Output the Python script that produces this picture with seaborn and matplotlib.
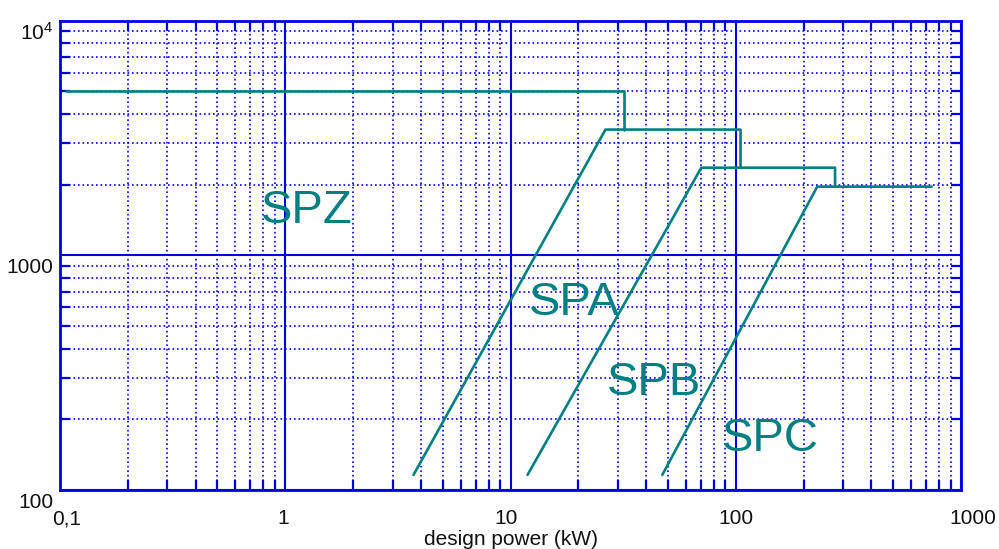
import numpy as np
import pandas as pd
import matplotlib
matplotlib.use("Agg")
import matplotlib.pyplot as plt
import matplotlib.transforms as mtransforms
from matplotlib.ticker import LogLocator, NullFormatter
import seaborn as sns

# Data (design power kW vs. rpm of small pulley)
spz_kw = [0.106, 32, 32]
spz_rpm = [5000, 5000, 3430]
spa_kw = [3.71, 26.4, 105, 105]
spa_rpm = [116, 3430, 3430, 2360]
spb_kw = [11.9, 70.3, 276, 276]
spb_rpm = [116, 2360, 2360, 1960]
spc_kw = [47.2, 230, 740]
spc_rpm = [116, 1960, 1960]

profile_names = ["SPZ", "SPA", "SPB", "SPC"]
label_kw = [1.245, 19.3, 43.2, 142]
label_rpm = [1376, 557, 254, 146.6]

x_ticks = [0.1, 1, 10, 100, 1000]
x_tick_labels = ["0,1", "1", "10", "100", "1000"]
y_ticks = [100, 1000, 10000]
y_tick_labels = ["100", "1000", r"$\mathregular{10^4}$"]

TEAL = "#008080"
BLUE = "#0000E6"

sns.set_style("white")
plt.rcParams["font.family"] = ["Liberation Sans", "DejaVu Sans"]
plt.rcParams["mathtext.fontset"] = "custom"
plt.rcParams["mathtext.rm"] = "Liberation Sans"

fig = plt.figure(figsize=(9.99, 5.49), dpi=100)
ax = fig.add_axes([60 / 999, (549 - 490) / 549, (961 - 60) / 999, (490 - 20.5) / 549])

ax.set_xscale("log")
ax.set_yscale("log")
ax.set_xlim(0.1, 1000)
ax.set_ylim(100, 10000)

# grid
ax.xaxis.set_minor_locator(LogLocator(base=10, subs=np.arange(2, 10), numticks=50))
ax.yaxis.set_minor_locator(LogLocator(base=10, subs=np.arange(2, 10), numticks=50))
ax.xaxis.set_minor_formatter(NullFormatter())
ax.yaxis.set_minor_formatter(NullFormatter())
ax.grid(which="major", color=BLUE, linewidth=1.5, linestyle="-")
ax.grid(which="minor", color="#0000FF", linewidth=1.2, linestyle=(0, (1, 1.7)))
ax.set_axisbelow(True)

# curves
for kw, rpm in [(spz_kw, spz_rpm), (spa_kw, spa_rpm), (spb_kw, spb_rpm), (spc_kw, spc_rpm)]:
    df = pd.DataFrame({"kw": kw, "rpm": rpm})
    sns.lineplot(data=df, x="kw", y="rpm", sort=False, estimator=None,
                 color=TEAL, linewidth=1.9, ax=ax)

for name, x, y in zip(profile_names, label_kw, label_rpm):
    ax.text(x, y, name, color=TEAL, fontsize=34, ha="center", va="baseline")

# axes styling
for sp in ax.spines.values():
    sp.set_color(BLUE)
    sp.set_linewidth(2.0)
    sp.set_visible(True)

ax.set_xticks(x_ticks)
ax.set_xticklabels(x_tick_labels)
ax.set_yticks(y_ticks)
ax.set_yticklabels(y_tick_labels)
ax.tick_params(which="both", direction="in", color=BLUE, top=True, right=True,
               bottom=True, left=True, width=1.6)
ax.tick_params(which="major", length=0)
ax.tick_params(which="minor", length=7)
ax.tick_params(axis="x", which="major", labelsize=15, pad=14, labelcolor="#111111")
ax.tick_params(axis="y", which="major", labelsize=15, pad=5, labelcolor="#111111")

ax.set_xlabel("design power (kW)", fontsize=15, labelpad=1, color="#111111")
ax.set_ylabel("")

# nudge tick labels to where they sit in the reference
x_shift = [7, -2, -4, 0, 12]
for lab, dx in zip(ax.get_xticklabels(), x_shift):
    lab.set_transform(lab.get_transform() + mtransforms.ScaledTranslation(dx / 100, 0, fig.dpi_scale_trans))
for lab in ax.get_yticklabels():
    lab.set_transform(lab.get_transform() + mtransforms.ScaledTranslation(0, -10 / 100, fig.dpi_scale_trans))

fig.savefig("out.png", dpi=100)
